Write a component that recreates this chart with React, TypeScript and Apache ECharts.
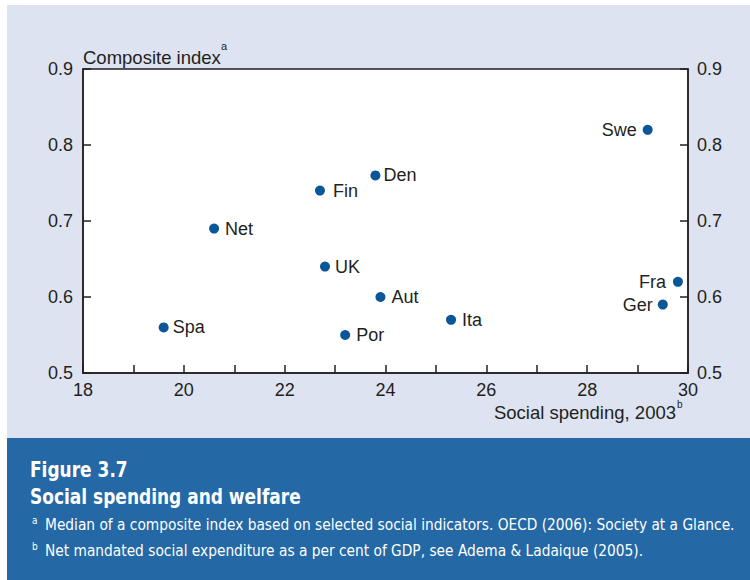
import React, { useEffect, useRef } from "react";
import * as echarts from "echarts";

const countries = ["Spa", "Net", "Fin", "UK", "Den", "Aut", "Por", "Ita", "Swe", "Ger", "Fra"];
const spending = [19.6, 20.6, 22.7, 22.8, 23.8, 23.9, 23.2, 25.3, 29.2, 29.5, 29.8];
const composite = [0.56, 0.69, 0.74, 0.64, 0.76, 0.6, 0.55, 0.57, 0.82, 0.59, 0.62];
const labelSide = ["right", "right", "right", "right", "right", "right", "right", "right", "left", "left", "left"];
const labelGap = [4, 6, 8, 5, 3, 6, 6, 6, 6, 5, 7];

const yAxisName = "Composite index";
const xAxisName = "Social spending, 2003";
const figureNo = "Figure 3.7";
const figureTitle = "Social spending and welfare";
const noteA = "Median of a composite index based on selected social indicators. OECD (2006): Society at a Glance.";
const noteB = "Net mandated social expenditure as a per cent of GDP, see Adema & Ladaique (2005).";

const INK = "#231f20";
const SANS = "'Liberation Sans', Arial, sans-serif";
const NARROW = "'DejaVu Sans Condensed', 'Liberation Sans', sans-serif";

export default function App() {
  const ref = useRef<HTMLDivElement>(null);
  useEffect(() => {
    document.body.style.margin = "0";
    const chart = echarts.init(ref.current!, null, { renderer: "svg" });
    const data = countries.map((c, i) => ({
      name: c,
      value: [spending[i], composite[i]],
      label: { position: labelSide[i], distance: labelGap[i] },
    }));
    const yAxisCommon = {
      type: "value",
      min: 0.5,
      max: 0.9,
      interval: 0.1,
      splitLine: { show: false },
      axisLine: { show: true, lineStyle: { color: INK, width: 1.5 } },
      axisTick: { show: true, inside: true, length: 8, lineStyle: { color: INK, width: 1.5 } },
    };
    chart.setOption({
      animation: false,
      backgroundColor: "#ffffff",
      grid: {
        left: 83,
        right: 62,
        top: 69,
        bottom: 207,
        show: true,
        backgroundColor: "#ffffff",
        borderColor: INK,
        borderWidth: 1.5,
      },
      xAxis: {
        type: "value",
        min: 18,
        max: 30,
        interval: 1,
        splitLine: { show: false },
        axisLine: { show: true, lineStyle: { color: INK, width: 1.5 } },
        axisTick: { show: true, inside: true, length: 8, lineStyle: { color: INK, width: 1.5 } },
        axisLabel: {
          color: INK,
          fontSize: 18,
          fontFamily: SANS,
          margin: 8,
          formatter: (v: number) => (v % 2 === 0 ? String(v) : ""),
        },
      },
      yAxis: [
        {
          ...yAxisCommon,
          position: "left",
          axisLabel: { color: INK, fontSize: 18, fontFamily: SANS, margin: 10, formatter: (v: number) => v.toFixed(1) },
        },
        {
          ...yAxisCommon,
          position: "right",
          axisLabel: { color: INK, fontSize: 18, fontFamily: SANS, margin: 9, formatter: (v: number) => v.toFixed(1) },
        },
      ],
      series: [
        {
          type: "scatter",
          yAxisIndex: 0,
          symbolSize: 10,
          itemStyle: { color: "#0b5699", opacity: 1 },
          label: {
            show: true,
            formatter: "{b}",
            color: INK,
            fontSize: 18,
            fontFamily: SANS,
          },
          data,
        },
      ],
      graphic: [
        { type: "rect", z: -10, silent: true, shape: { x: 7, y: 5, width: 743, height: 433 }, style: { fill: "#dde3f0" } },
        { type: "rect", z: -10, silent: true, shape: { x: 7, y: 438, width: 743, height: 142 }, style: { fill: "#2468a5" } },
        {
          type: "text",
          x: 83,
          y: 57,
          style: { text: yAxisName, fill: INK, fontSize: 18.5, fontFamily: SANS, verticalAlign: "middle", align: "left" },
        },
        {
          type: "text",
          x: 221,
          y: 46,
          style: { text: "a", fill: INK, fontSize: 11, fontFamily: SANS, verticalAlign: "middle", align: "left" },
        },
        {
          type: "text",
          x: 676,
          y: 412,
          style: { text: xAxisName, fill: INK, fontSize: 18.5, fontFamily: SANS, verticalAlign: "middle", align: "right" },
        },
        {
          type: "text",
          x: 677,
          y: 404,
          style: { text: "b", fill: INK, fontSize: 10, fontFamily: SANS, verticalAlign: "middle", align: "left" },
        },
        {
          type: "text",
          x: 30,
          y: 469,
          scaleX: 0.86,
          style: { text: figureNo, fill: "#ffffff", fontSize: 22, fontWeight: "bold", fontFamily: NARROW, verticalAlign: "middle" },
        },
        {
          type: "text",
          x: 30,
          y: 496,
          scaleX: 0.86,
          style: { text: figureTitle, fill: "#ffffff", fontSize: 22, fontWeight: "bold", fontFamily: NARROW, verticalAlign: "middle" },
        },
        {
          type: "text",
          x: 32,
          y: 520,
          style: { text: "a", fill: "#ffffff", fontSize: 10, fontFamily: NARROW, verticalAlign: "middle" },
        },
        {
          type: "text",
          x: 45,
          y: 525,
          style: { text: noteA, fill: "#ffffff", fontSize: 15.3, fontFamily: NARROW, verticalAlign: "middle" },
        },
        {
          type: "text",
          x: 32,
          y: 546,
          style: { text: "b", fill: "#ffffff", fontSize: 10, fontFamily: NARROW, verticalAlign: "middle" },
        },
        {
          type: "text",
          x: 45,
          y: 551,
          style: { text: noteB, fill: "#ffffff", fontSize: 15.3, fontFamily: NARROW, verticalAlign: "middle" },
        },
      ],
    });
    return () => chart.dispose();
  }, []);
  return <div ref={ref} style={{ width: 750, height: 580 }} />;
}
